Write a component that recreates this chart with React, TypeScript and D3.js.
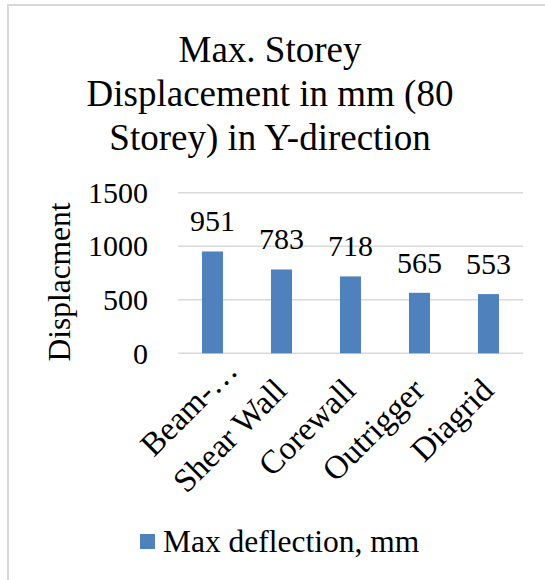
import React from "react";
import * as d3 from "d3";

// Chart data
const categories = ["Beam-…", "Shear Wall", "Corewall", "Outrigger", "Diagrid"];
const maxDeflection = [951, 783, 718, 565, 553];
const yTicks = [0, 500, 1000, 1500];
const titleLines = ["Max. Storey", "Displacement in mm (80", "Storey) in Y-direction"];
const seriesName = "Max deflection, mm";
const yAxisTitle = "Displacment";

const W = 545;
const H = 580;
const FONT = "'Liberation Serif', 'Times New Roman', serif";
const BAR = "#4f81bd";
const GRID = "#d9d9d9";

export default function App() {
  const plot = { left: 178, right: 523, top: 192.7, bottom: 353.3 };

  const x = d3
    .scaleBand<string>()
    .domain(categories)
    .range([plot.left, plot.right])
    .paddingInner(0.695)
    .paddingOuter(0.3475);

  const y = d3.scaleLinear().domain([0, 1500]).range([plot.bottom, plot.top]);

  return (
    <svg
      width={W}
      height={H}
      style={{ position: "absolute", left: 0, top: 0, background: "#fff" }}
      fontFamily={FONT}
    >
      <rect x={8} y={5} width={W} height={H} fill="#fff" stroke={GRID} strokeWidth={2} />

      {/* title */}
      <text textAnchor="middle" fontSize={37} fill="#000">
        {titleLines.map((t, i) => (
          <tspan key={i} x={270} y={62 + i * 44}>
            {t}
          </tspan>
        ))}
      </text>

      {/* gridlines and tick labels */}
      {yTicks.map((t) => (
        <g key={t}>
          <line x1={plot.left} x2={plot.right} y1={y(t)} y2={y(t)} stroke={GRID} strokeWidth={1.5} />
          <text x={148} y={y(t)} dy="0.34em" textAnchor="end" fontSize={30} fill="#000">
            {t}
          </text>
        </g>
      ))}

      {/* y axis title */}
      <text
        transform={`translate(70, 282) rotate(-90)`}
        textAnchor="middle"
        fontSize={31.5}
        fill="#000"
      >
        {yAxisTitle}
      </text>

      {/* bars */}
      {categories.map((c, i) => (
        <rect
          key={c}
          x={x(c)}
          y={y(maxDeflection[i])}
          width={x.bandwidth()}
          height={plot.bottom - y(maxDeflection[i])}
          fill={BAR}
        />
      ))}

      {/* data labels */}
      {categories.map((c, i) => (
        <text
          key={c}
          x={(x(c) as number) + x.bandwidth() / 2}
          y={y(maxDeflection[i]) - 20}
          textAnchor="middle"
          fontSize={30}
          fill="#000"
        >
          {maxDeflection[i]}
        </text>
      ))}

      {/* category labels; truncated names sit further along their slant */}
      {categories.map((c) => {
        const cx = (x(c) as number) + x.bandwidth() / 2;
        const shift = c.endsWith("…") ? 28 : 0;
        return (
          <text
            key={c}
            transform={`translate(${cx + 7}, ${plot.bottom + 39}) rotate(-45)`}
            dx={shift}
            textAnchor="end"
            fontSize={33}
            fill="#000"
          >
            {c}
          </text>
        );
      })}

      {/* legend */}
      <rect x={140} y={534} width={15} height={15} fill={BAR} />
      <text x={163} y={552} fontSize={31.5} fill="#000">
        {seriesName}
      </text>
    </svg>
  );
}
